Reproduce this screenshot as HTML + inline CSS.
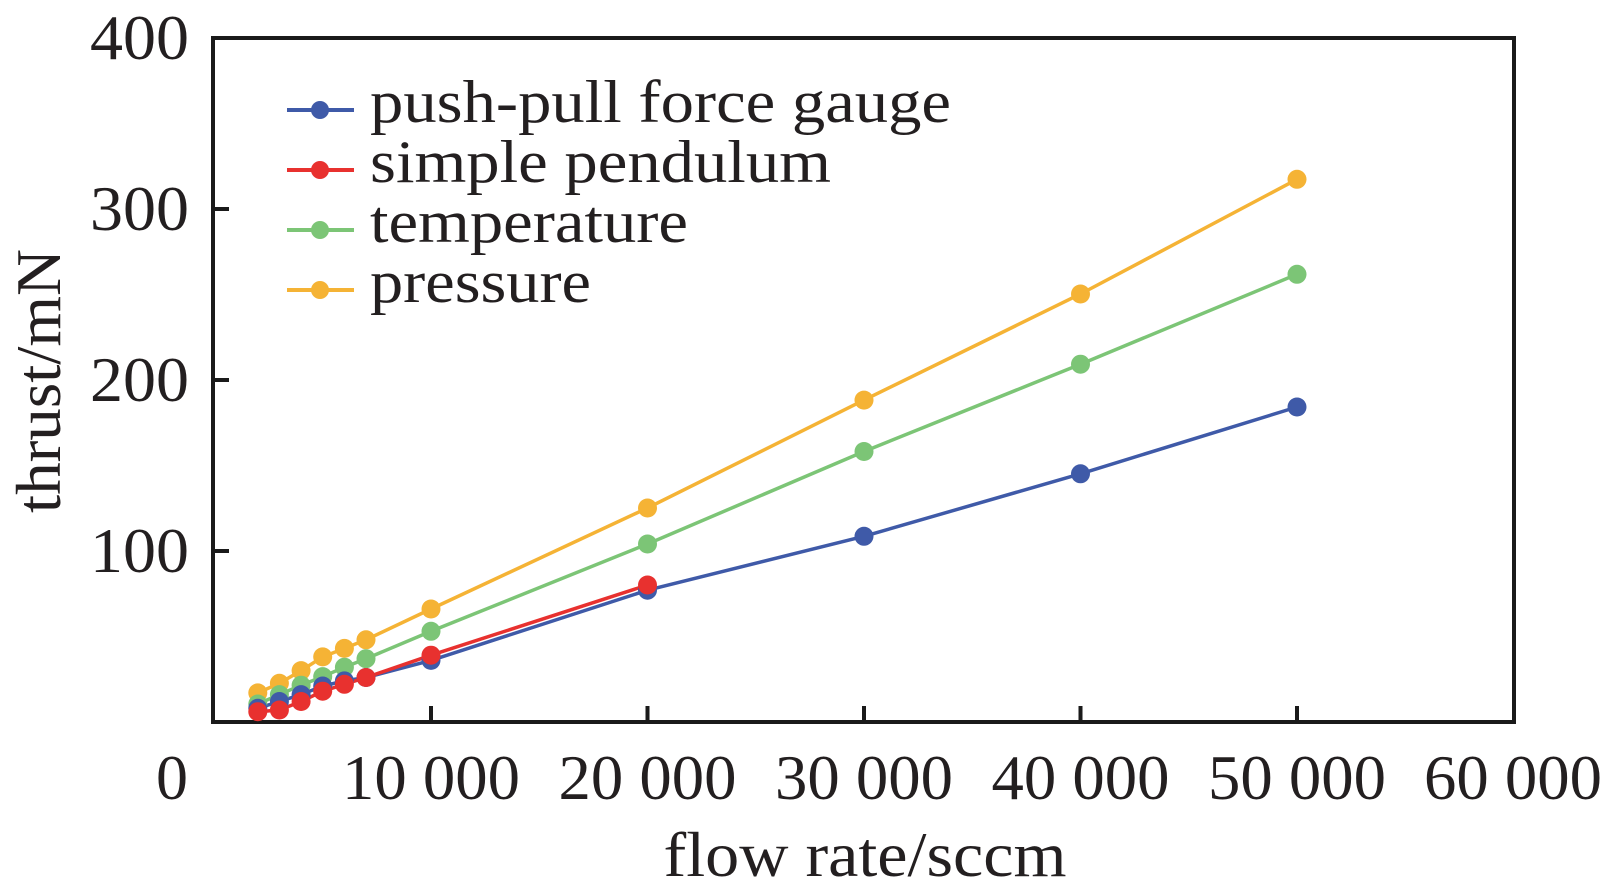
<!DOCTYPE html>
<html><head><meta charset="utf-8"><style>
html,body{margin:0;padding:0;background:#fff;}
svg{display:block;}
text{font-family:"Liberation Serif","Times New Roman",serif;fill:#231f20;}
</style></head><body>
<svg width="1606" height="894" viewBox="0 0 1606 894" xmlns="http://www.w3.org/2000/svg">
<rect x="213" y="38" width="1301" height="684" fill="none" stroke="#1a1a1a" stroke-width="4"/>
<g stroke="#1a1a1a" stroke-width="4">
<line x1="213" y1="209" x2="229" y2="209"/>
<line x1="213" y1="380" x2="229" y2="380"/>
<line x1="213" y1="551" x2="229" y2="551"/>
<line x1="431" y1="722" x2="431" y2="706"/>
<line x1="647.5" y1="722" x2="647.5" y2="706"/>
<line x1="864" y1="722" x2="864" y2="706"/>
<line x1="1080.5" y1="722" x2="1080.5" y2="706"/>
<line x1="1297" y1="722" x2="1297" y2="706"/>
</g>
<g font-size="64" text-anchor="end">
<text x="189" y="59" textLength="99" lengthAdjust="spacingAndGlyphs">400</text>
<text x="189" y="230" textLength="99" lengthAdjust="spacingAndGlyphs">300</text>
<text x="189" y="401" textLength="99" lengthAdjust="spacingAndGlyphs">200</text>
<text x="189" y="572" textLength="99" lengthAdjust="spacingAndGlyphs">100</text>
</g>
<g font-size="64" text-anchor="middle">
<text x="172" y="799">0</text>
<text x="431" y="799" textLength="178" lengthAdjust="spacingAndGlyphs">10 000</text>
<text x="647.5" y="799" textLength="178" lengthAdjust="spacingAndGlyphs">20 000</text>
<text x="864" y="799" textLength="178" lengthAdjust="spacingAndGlyphs">30 000</text>
<text x="1080.5" y="799" textLength="178" lengthAdjust="spacingAndGlyphs">40 000</text>
<text x="1297" y="799" textLength="178" lengthAdjust="spacingAndGlyphs">50 000</text>
<text x="1513" y="799" textLength="178" lengthAdjust="spacingAndGlyphs">60 000</text>
<text x="865" y="876" textLength="403" lengthAdjust="spacingAndGlyphs">flow rate/sccm</text>
<text transform="translate(60,381) rotate(-90)" textLength="264" lengthAdjust="spacingAndGlyphs">thrust/mN</text>
</g>
<g stroke-width="3.5" fill="none">
<polyline stroke="#f5b335" points="257.8,692.9 279.4,683.3 301.1,670.6 322.7,656.9 344.4,648.4 366,639.8 431,609 647.5,508 864,400.1 1080.5,294 1297,179.3"/>
<polyline stroke="#7cc576" points="257.8,704 279.4,694.6 301.1,685.2 322.7,676.6 344.4,667.2 366,658.7 431,631.3 647.5,544 864,451.5 1080.5,364.2 1297,274.3"/>
<polyline stroke="#3f5aa8" points="257.8,708.3 279.4,701.5 301.1,694.6 322.7,686 344.4,680.9 366,677.5 431,660.4 647.5,590.2 864,536.3 1080.5,473.8 1297,407"/>
<polyline stroke="#e8312f" points="257.8,711.7 279.4,710 301.1,701.5 322.7,691.2 344.4,684.3 366,677.5 431,655.2 647.5,585"/>
</g>
<g fill="#f5b335">
<circle cx="257.8" cy="692.9" r="9.5"/><circle cx="279.4" cy="683.3" r="9.5"/><circle cx="301.1" cy="670.6" r="9.5"/><circle cx="322.7" cy="656.9" r="9.5"/><circle cx="344.4" cy="648.4" r="9.5"/><circle cx="366" cy="639.8" r="9.5"/><circle cx="431" cy="609" r="9.5"/><circle cx="647.5" cy="508" r="9.5"/><circle cx="864" cy="400.1" r="9.5"/><circle cx="1080.5" cy="294" r="9.5"/><circle cx="1297" cy="179.3" r="9.5"/>
</g>
<g fill="#7cc576">
<circle cx="257.8" cy="704" r="9.5"/><circle cx="279.4" cy="694.6" r="9.5"/><circle cx="301.1" cy="685.2" r="9.5"/><circle cx="322.7" cy="676.6" r="9.5"/><circle cx="344.4" cy="667.2" r="9.5"/><circle cx="366" cy="658.7" r="9.5"/><circle cx="431" cy="631.3" r="9.5"/><circle cx="647.5" cy="544" r="9.5"/><circle cx="864" cy="451.5" r="9.5"/><circle cx="1080.5" cy="364.2" r="9.5"/><circle cx="1297" cy="274.3" r="9.5"/>
</g>
<g fill="#3f5aa8">
<circle cx="257.8" cy="708.3" r="9.5"/><circle cx="279.4" cy="701.5" r="9.5"/><circle cx="301.1" cy="694.6" r="9.5"/><circle cx="322.7" cy="686" r="9.5"/><circle cx="344.4" cy="680.9" r="9.5"/><circle cx="366" cy="677.5" r="9.5"/><circle cx="431" cy="660.4" r="9.5"/><circle cx="647.5" cy="590.2" r="9.5"/><circle cx="864" cy="536.3" r="9.5"/><circle cx="1080.5" cy="473.8" r="9.5"/><circle cx="1297" cy="407" r="9.5"/>
</g>
<g fill="#e8312f">
<circle cx="257.8" cy="711.7" r="9.5"/><circle cx="279.4" cy="710" r="9.5"/><circle cx="301.1" cy="701.5" r="9.5"/><circle cx="322.7" cy="691.2" r="9.5"/><circle cx="344.4" cy="684.3" r="9.5"/><circle cx="366" cy="677.5" r="9.5"/><circle cx="431" cy="655.2" r="9.5"/><circle cx="647.5" cy="585" r="9.5"/>
</g>
<g stroke-width="4">
<line x1="287" y1="110" x2="354" y2="110" stroke="#3f5aa8"/><circle cx="320" cy="110" r="9" fill="#3f5aa8"/>
<line x1="287" y1="170" x2="354" y2="170" stroke="#e8312f"/><circle cx="320" cy="170" r="9" fill="#e8312f"/>
<line x1="287" y1="230" x2="354" y2="230" stroke="#7cc576"/><circle cx="320" cy="230" r="9" fill="#7cc576"/>
<line x1="287" y1="290" x2="354" y2="290" stroke="#f5b335"/><circle cx="320" cy="290" r="9" fill="#f5b335"/>
</g>
<g font-size="60">
<text x="370" y="122" textLength="581" lengthAdjust="spacingAndGlyphs">push-pull force gauge</text>
<text x="370" y="182" textLength="461" lengthAdjust="spacingAndGlyphs">simple pendulum</text>
<text x="370" y="242" textLength="318" lengthAdjust="spacingAndGlyphs">temperature</text>
<text x="370" y="302" textLength="221" lengthAdjust="spacingAndGlyphs">pressure</text>
</g>
</svg>
</body></html>
